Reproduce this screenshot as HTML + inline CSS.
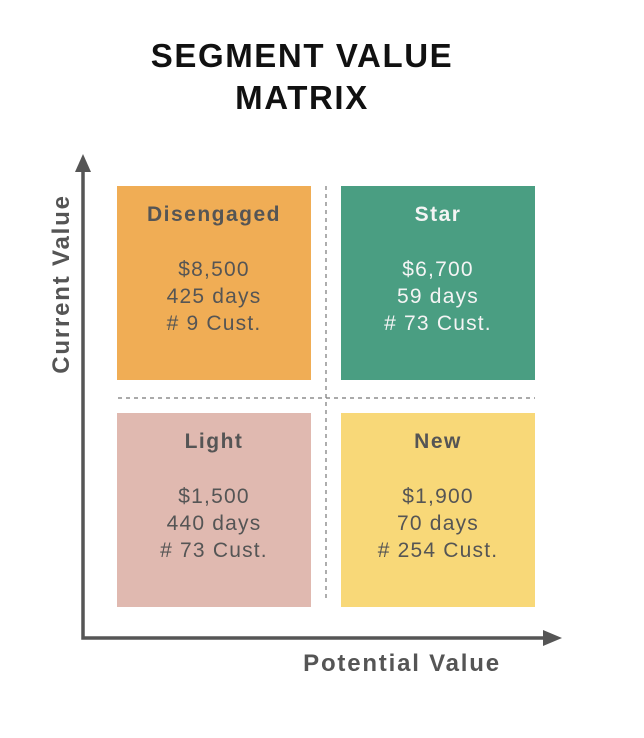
<!DOCTYPE html>
<html><head><meta charset="utf-8"><style>
body{margin:0;background:#fff;width:644px;height:738px;overflow:hidden;font-family:"Liberation Sans",sans-serif}
.t{position:absolute;left:0;width:604px;text-align:center;font-weight:bold;font-size:33px;color:#111;letter-spacing:1.6px}
</style></head><body>
<div class="t" style="top:35px;line-height:42px">SEGMENT VALUE<br>MATRIX</div>
<svg id="c" width="644" height="738" style="position:absolute;left:0;top:0"></svg>
<script>
const segments=["Disengaged","Star","Light","New"];
const revenue=["$8,500","$6,700","$1,500","$1,900"];
const recency=["425 days","59 days","440 days","70 days"];
const customers=["# 9 Cust.","# 73 Cust.","# 73 Cust.","# 254 Cust."];
const colors=["#F0AD55","#4A9E82","#E0B9B0","#F8D878"];
const cols=[0,1,0,1];
const rows=[0,0,1,1];
const ns="http://www.w3.org/2000/svg",svg=document.getElementById('c');
function mk(t,a,p){const e=document.createElementNS(ns,t);for(const k in a)e.setAttribute(k,a[k]);(p||svg).appendChild(e);return e;}
const colX=c=>117+c*224, rowY=r=>186+r*227, S=194;
let l;
l=mk('line',{x1:326,y1:186,x2:326,y2:602,stroke:'#777','stroke-width':1.2,'stroke-dasharray':'4,4'});

l=mk('line',{x1:118,y1:398,x2:535,y2:398,stroke:'#777','stroke-width':1.2,'stroke-dasharray':'4,4'});

segments.forEach((s,i)=>{
  const x=colX(cols[i]),y=rowY(rows[i]);
  const g=mk('g',{});
  
  
  mk('rect',{x:x,y:y,width:S,height:S,fill:colors[i]},g);
  const cx=x+S/2, fc=i==1?'#f4f4f4':'#555';
  const tt=mk('text',{x:cx,y:y+35,'text-anchor':'middle','font-size':21,'font-weight':'bold','letter-spacing':1.5,fill:fc,'font-family':'Liberation Sans, sans-serif'},g);tt.textContent=s;
  [revenue[i],recency[i],customers[i]].forEach((v,k)=>{
    const te=mk('text',{x:cx,y:y+90+k*27,'text-anchor':'middle','font-size':21,'letter-spacing':1.2,fill:fc,'font-family':'Liberation Sans, sans-serif'},g);te.textContent=v;
  });
});
l=mk('path',{d:'M83,168 L83,638 L548,638',fill:'none',stroke:'#555','stroke-width':3.5});

l=mk('polygon',{points:'83,154 75,172 91,172',fill:'#555'});

l=mk('polygon',{points:'562,638 543,630 543,646',fill:'#555'});

l=mk('text',{x:0,y:0,transform:'translate(69,284) rotate(-90)','text-anchor':'middle','font-size':24,'font-weight':'bold','letter-spacing':1.8,fill:'#555','font-family':'Liberation Sans, sans-serif'});
l.textContent='Current Value';
l=mk('text',{x:402,y:671,'text-anchor':'middle','font-size':24,'font-weight':'bold','letter-spacing':1.8,fill:'#555','font-family':'Liberation Sans, sans-serif'});
l.textContent='Potential Value';
</script>
</body></html>
